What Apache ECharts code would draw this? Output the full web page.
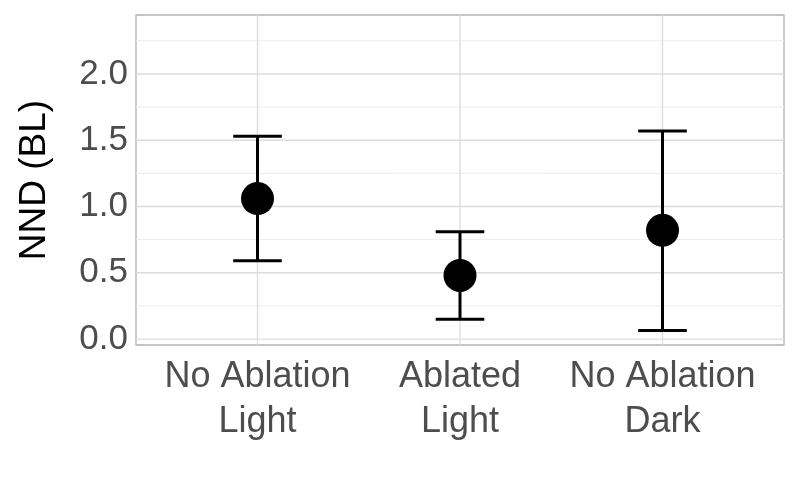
<!DOCTYPE html><html><head><meta charset="utf-8">
<script src="https://cdn.jsdelivr.net/npm/echarts@6/dist/echarts.min.js"></script>
<style>html,body{margin:0;background:#fff}#c{width:800px;height:494px}</style></head><body><div id="c"></div>
<script>
const categories=["No Ablation\nLight","Ablated\nLight","No Ablation\nDark"];
const means=[1.06,0.48,0.82];
const lower=[0.59,0.15,0.065];
const upper=[1.53,0.81,1.57];
const majorTicks=[0,0.5,1,1.5,2];
const minorTicks=[0.25,0.75,1.25,1.75,2.25];
const tickLabels=["0.0","0.5","1.0","1.5","2.0"];
const chart=echarts.init(document.getElementById('c'));
const ff='Liberation Sans, Arial, sans-serif';
chart.setOption({
 animation:false,
 grid:{left:136,right:16,top:15,bottom:149,show:true,borderColor:'#b3b3b3',borderWidth:1.3},
 xAxis:{type:'value',min:0.4,max:3.6,show:false},
 yAxis:{type:'value',min:-0.045,max:2.445,show:false},
 graphic:[{type:'text',x:16,y:180,rotation:Math.PI/2,originX:0,originY:0,
   style:{text:'NND (BL)',fontSize:37,fontFamily:ff,fill:'#000',align:'center',verticalAlign:'top'}}],
 series:[
  {type:'custom',silent:true,clip:false,z:1,
   data:[0],
   renderItem:(p,api)=>{
     const ch=[];
     const x0=api.coord([0.4,0])[0],x1=api.coord([3.6,0])[0];
     const yt=api.coord([1,2.445])[1],yb=api.coord([1,-0.045])[1];
     minorTicks.forEach(v=>{const y=api.coord([1,v])[1];ch.push({type:'line',shape:{x1:x0,y1:y,x2:x1,y2:y},style:{stroke:'#ececec',lineWidth:1}});});
     majorTicks.forEach((v,i)=>{const y=api.coord([1,v])[1];ch.push({type:'line',shape:{x1:x0,y1:y,x2:x1,y2:y},style:{stroke:'#dcdcdc',lineWidth:1.3}});
       ch.push({type:'text',style:{text:tickLabels[i],x:x0-8,y:y,align:'right',verticalAlign:'middle',fontSize:35,fontFamily:ff,fill:'#4d4d4d'}});});
     categories.forEach((c,i)=>{const x=api.coord([i+1,0])[0];ch.push({type:'line',shape:{x1:x,y1:yt,x2:x,y2:yb},style:{stroke:'#dcdcdc',lineWidth:1.3}});
       ch.push({type:'text',style:{text:c,x:x,y:yb+10,align:'center',verticalAlign:'top',fontSize:36,fontFamily:ff,fill:'#4d4d4d',lineHeight:45}});});
     return {type:'group',children:ch};
   }},
  {type:'custom',z:2,clip:false,
   data:categories.map((c,i)=>[i+1,lower[i],upper[i]]),
   renderItem:(p,api)=>{
     const x=api.value(0);const lo=api.coord([x,api.value(1)]),hi=api.coord([x,api.value(2)]);
     const w=api.coord([x+0.12,0])[0]-lo[0];const s={stroke:'#000',lineWidth:3};
     return {type:'group',children:[
      {type:'line',shape:{x1:lo[0],y1:lo[1],x2:hi[0],y2:hi[1]},style:s},
      {type:'line',shape:{x1:lo[0]-w,y1:lo[1],x2:lo[0]+w,y2:lo[1]},style:s},
      {type:'line',shape:{x1:hi[0]-w,y1:hi[1],x2:hi[0]+w,y2:hi[1]},style:s}]};
   }},
  {type:'scatter',z:3,symbolSize:33,itemStyle:{color:'#000',opacity:1},
   data:means.map((m,i)=>[i+1,m])}
 ]
});
</script></body></html>
